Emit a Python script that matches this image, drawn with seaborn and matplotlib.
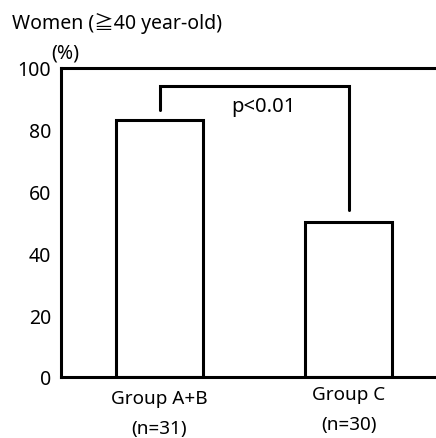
import matplotlib
matplotlib.use("Agg")
import matplotlib.pyplot as plt
import matplotlib.transforms as mtransforms
import seaborn as sns

groups = ["Group A+B\n(n=31)", "Group C\n(n=30)"]
values = [83, 50]
yticks = [0, 20, 40, 60, 80, 100]
p_label = "p<0.01"
bracket_top = 94

sns.set_style("white")
plt.rcParams['font.family'] = ['Noto Sans', 'Noto Sans CJK JP', 'DejaVu Sans']
plt.rcParams['text.color'] = 'black'
plt.rcParams['xtick.color'] = 'black'
plt.rcParams['ytick.color'] = 'black'

fig = plt.figure(figsize=(4.36, 4.39), dpi=100)
ax = fig.add_axes([0.140, 0.139, 0.860, 0.704])

sns.barplot(x=groups, y=values, color="white", edgecolor="black",
            linewidth=2.2, width=0.46, ax=ax)

# significance bracket
ax.plot([0, 0, 1, 1], [values[0] + 3.5, bracket_top, bracket_top, values[1] + 4],
        color="black", lw=2.2, solid_joinstyle="miter", clip_on=False)
ax.text(0.55, 91, p_label, ha="center", va="top", fontsize=14.5)

ax.set_ylim(0, 100)
ax.set_xlim(-0.52, 1.46)
ax.set_yticks(yticks)
ax.tick_params(axis="y", direction="in", length=5, width=1.8, labelsize=14, pad=7)
ax.tick_params(axis="x", length=0, labelsize=13.6, pad=6)
for i, lbl in enumerate(ax.get_xticklabels()):
    lbl.set_linespacing(1.8)
    if i == 0:
        # first label sits a little lower in the original
        lbl.set_transform(lbl.get_transform() +
                          mtransforms.ScaledTranslation(0, -3 / 72, fig.dpi_scale_trans))

for s in ["left", "top", "bottom"]:
    ax.spines[s].set_linewidth(2.2)
    ax.spines[s].set_color("black")
ax.spines["right"].set_visible(False)

fig.text(0.027, 0.947, "Women (≧40 year-old)", fontsize=14, ha="left", va="center")
fig.text(0.118, 0.877, "(%)", fontsize=14, ha="left", va="center")

fig.savefig("out.png", dpi=100)
